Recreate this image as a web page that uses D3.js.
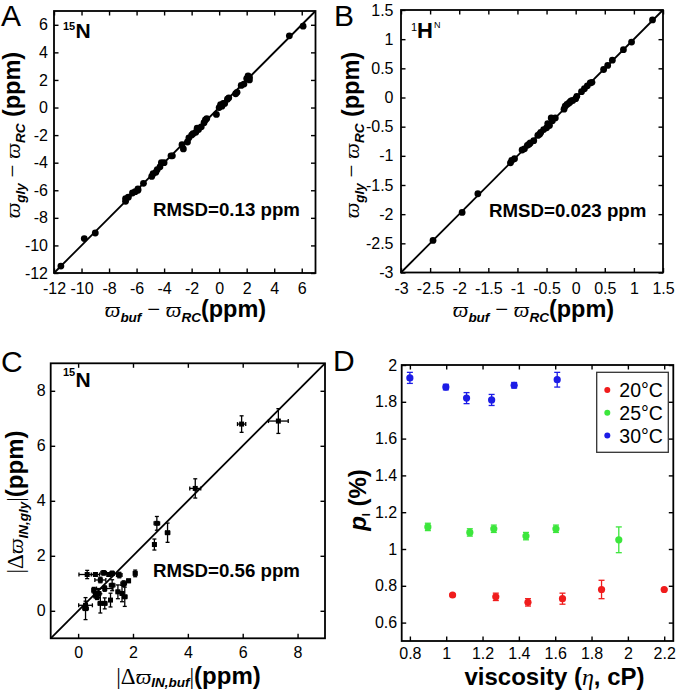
<!DOCTYPE html>
<html>
<head>
<meta charset="utf-8">
<script src="https://cdn.jsdelivr.net/npm/d3@7"></script>
<style>
  body { margin: 0; background: #fff; }
  svg { display: block; }
  text { font-family: "Liberation Sans", Arial, sans-serif; }
</style>
</head>
<body>
<div id="graf"></div>
<script>
// datos panel A (15N)
const aBuf = [-11.5, -9.8, -9.0, -6.8, -6.8, -6.6, -6.3, -6.1, -5.9, -5.9, -5.5, -4.9, -4.8, -4.6, -4.5, -4.3, -4.2, -4.0, -3.5, -3.4, -2.7, -2.6, -2.3, -2.2, -2.0, -1.9, -1.7, -1.6, -1.5, -1.3, -1.1, -1.0, -0.9, -0.2, 0.0, 0.1, 0.2, 0.3, 0.4, 0.6, 0.7, 1.2, 1.3, 1.6, 1.8, 2.0, 2.2, 2.2, 2.1, 5.1, 6.1]
const aGly = [-11.5, -9.5, -9.1, -6.8, -6.6, -6.5, -6.2, -6.1, -6.0, -5.9, -5.5, -5.0, -4.8, -4.7, -4.5, -4.3, -4.0, -4.0, -3.5, -3.5, -2.7, -3.0, -2.5, -2.2, -2.0, -1.9, -1.8, -1.5, -1.6, -1.4, -1.1, -0.9, -0.8, -0.5, 0.0, 0.2, 0.1, 0.3, 0.3, 0.6, 0.7, 1.0, 1.1, 1.6, 1.7, 2.1, 2.2, 2.0, 2.3, 5.2, 5.9]
const aTicks = [-12, -10, -8, -6, -4, -2, 0, 2, 4, 6]

// datos panel B (1HN)
const bBuf = [-2.45, -1.95, -1.68, -1.12, -1.1, -1.05, -0.92, -0.88, -0.83, -0.8, -0.78, -0.72, -0.65, -0.62, -0.6, -0.55, -0.5, -0.48, -0.45, -0.42, -0.4, -0.35, -0.2, -0.18, -0.15, -0.12, -0.1, -0.08, -0.05, 0.0, 0.02, 0.1, 0.15, 0.2, 0.25, 0.28, 0.48, 0.55, 0.63, 0.82, 0.96, 1.32]
const bGly = [-2.45, -1.97, -1.65, -1.12, -1.08, -1.05, -0.9, -0.88, -0.82, -0.8, -0.78, -0.74, -0.65, -0.63, -0.6, -0.55, -0.52, -0.45, -0.48, -0.35, -0.4, -0.35, -0.2, -0.15, -0.12, -0.1, -0.08, -0.06, -0.05, -0.02, 0.02, 0.1, 0.15, 0.2, 0.25, 0.26, 0.48, 0.55, 0.64, 0.82, 0.95, 1.33]
const bTicks = [-3, -2.5, -2, -1.5, -1, -0.5, 0, 0.5, 1, 1.5]

// datos panel C (|Δϖ|)
const cBuf = [7.3, 5.96, 4.27, 2.87, 2.78, 3.26, 2.08, 1.84, 1.66, 1.5, 1.45, 1.6, 1.7, 1.24, 1.12, 0.93, 1.24, 1.18, 0.97, 0.81, 0.63, 0.33, 0.75, 0.69, 0.81, 0.97, 0.63, 0.27, 0.27, 0.57]
const cGly = [6.9, 6.79, 4.45, 3.18, 2.41, 2.84, 1.36, 1.09, 0.99, 1.3, 0.69, 0.63, 0.51, 1.36, 1.32, 1.38, 0.93, 0.39, 0.81, 1.12, 1.32, 1.32, 0.63, 0.51, 0.27, 0.27, 0.57, 0.2, 0.08, 0.75]
const cBufErr = [0.36, 0.15, 0.2, 0.1, 0.06, 0.08, 0.06, 0.06, 0.1, 0.1, 0.06, 0.06, 0.08, 0.08, 0.06, 0.1, 0.1, 0.06, 0.3, 0.2, 0.15, 0.3, 0.08, 0.06, 0.08, 0.08, 0.06, 0.25, 0.1, 0.06]
const cGlyErr = [0.45, 0.3, 0.35, 0.25, 0.2, 0.35, 0.12, 0.06, 0.1, 0.1, 0.25, 0.3, 0.35, 0.08, 0.06, 0.08, 0.2, 0.25, 0.1, 0.1, 0.06, 0.15, 0.15, 0.1, 0.35, 0.2, 0.1, 0.15, 0.4, 0.1]
const cTicks = [0, 2, 4, 6, 8]

// datos panel D (p_I vs viscosidad)
const temps = ['20°C', '25°C', '30°C']
const colores = ['#f01c1c', '#3ce63c', '#1c1ce6']
const visc20 = [1.035, 1.273, 1.45, 1.64, 1.855, 2.2]
const pI20 = [0.75, 0.74, 0.71, 0.73, 0.78, 0.78]
const err20 = [0.005, 0.02, 0.02, 0.03, 0.05, 0.005]
const visc25 = [0.899, 1.13, 1.262, 1.439, 1.604, 1.95]
const pI25 = [1.12, 1.09, 1.11, 1.07, 1.11, 1.05]
const err25 = [0.02, 0.02, 0.02, 0.02, 0.02, 0.07]
const visc30 = [0.8, 0.998, 1.112, 1.25, 1.374, 1.611]
const pI30 = [1.93, 1.88, 1.82, 1.81, 1.89, 1.92]
const err30 = [0.03, 0.015, 0.03, 0.03, 0.015, 0.04]
const dxTicks = [0.8, 1, 1.2, 1.4, 1.6, 1.8, 2, 2.2]
const dyTicks = [0.6, 0.8, 1, 1.2, 1.4, 1.6, 1.8, 2]

// I. Configuración
const svg = d3.select('#graf').append('svg')
  .attr('width', 680)
  .attr('height', 690)

const fmt = d => String(Math.round(d * 10) / 10)
const SERIF = '"Liberation Serif", "DejaVu Serif", serif'

function panel(x, y, xt, yt, padX, padY) {
  const g = svg.append('g')
  const [x0, x1] = x.range()
  const [y0, y1] = y.range()

  const ejes = [
    [d3.axisBottom(x).tickValues(xt).tickPadding(padX).tickFormat(fmt), `translate(0,${y0})`],
    [d3.axisTop(x).tickValues(xt).tickFormat(''), `translate(0,${y1})`],
    [d3.axisLeft(y).tickValues(yt).tickPadding(padY).tickFormat(fmt), `translate(${x0},0)`],
    [d3.axisRight(y).tickValues(yt).tickFormat(''), `translate(${x1},0)`]
  ]
  ejes.forEach(([ax, tr]) => {
    const a = g.append('g')
      .attr('transform', tr)
      .call(ax.tickSizeInner(-4.5).tickSizeOuter(0))
      .attr('font-family', null)
      .attr('font-size', 16)
    a.select('.domain').remove()
    a.selectAll('line').attr('stroke-width', 1.4)
  })

  g.append('rect')
    .attr('x', x0).attr('y', y1)
    .attr('width', x1 - x0).attr('height', y0 - y1)
    .attr('fill', 'none')
    .attr('stroke', '#000')
    .attr('stroke-width', 1.8)
  return g
}

// título con piezas: [texto, tipo]
function titulo(px, py, rot, piezas, bajo = 5) {
  const t = svg.append('text')
    .attr('transform', `translate(${px},${py}) rotate(${rot})`)
    .attr('text-anchor', 'middle')
  let off = 0
  piezas.forEach(([txt, tipo]) => {
    const s = t.append('tspan').text(txt)
    let nuevo = 0
    if (tipo == 'g') {
      s.attr('font-family', SERIF).attr('font-style', 'italic').attr('font-size', 22)
    } else if (tipo == 'r') {
      s.attr('font-family', SERIF).attr('font-size', 23)
    } else if (tipo == 'sub') {
      s.attr('font-weight', 'bold').attr('font-style', 'italic').attr('font-size', 13.5)
      nuevo = bajo
    } else {
      s.attr('font-weight', 'bold').attr('font-size', tipo == 'big' ? 24 : 23.5)
    }
    if (nuevo != off) s.attr('dy', nuevo - off)
    off = nuevo
  })
}

function etiqueta(txt, px, py) {
  svg.append('text')
    .attr('x', px).attr('y', py)
    .attr('font-size', 30)
    .text(txt)
}

function rmsd(txt, px, py) {
  svg.append('text')
    .attr('x', px).attr('y', py)
    .attr('font-size', 18.7)
    .attr('font-weight', 'bold')
    .text(txt)
}

function diagonal(g, x, y, lo, hi) {
  g.append('line')
    .attr('x1', x(lo)).attr('y1', y(lo))
    .attr('x2', x(hi)).attr('y2', y(hi))
    .attr('stroke', '#000')
    .attr('stroke-width', 1.8)
}

// II. Panel A
const xA = d3.scaleLinear().domain([-12, 7]).range([54, 315.5])
const yA = d3.scaleLinear().domain([-12, 7]).range([273, 11])
const gA = panel(xA, yA, aTicks, aTicks, 10, 6)
diagonal(gA, xA, yA, -12, 7)
gA.selectAll('circle.pt')
  .data(aBuf)
  .enter()
  .append('circle')
    .attr('cx', d => xA(d))
    .attr('cy', (d, i) => yA(aGly[i]))
    .attr('r', 3.4)
    .attr('fill', '#000')
etiqueta('A', 1, 26)
svg.append('text').attr('x', 63).attr('y', 30).attr('font-size', 11).attr('font-weight', 'bold').text('15')
svg.append('text').attr('x', 75.5).attr('y', 38).attr('font-size', 21).attr('font-weight', 'bold').text('N')
rmsd('RMSD=0.13 ppm', 153, 216)
titulo(185.5, 317, 0, [['ϖ', 'g'], ['buf', 'sub'], [' − ', 'r'], ['ϖ', 'g'], ['RC', 'sub'], ['(ppm)', 'b']])
titulo(20, 135, -90, [['ϖ', 'g'], ['gly', 'sub'], [' − ', 'r'], ['ϖ', 'g'], ['RC', 'sub'], [' (ppm)', 'b']])

// III. Panel B
const xB = d3.scaleLinear().domain([-3, 1.5]).range([401, 663])
const yB = d3.scaleLinear().domain([-3, 1.5]).range([272.5, 10])
const gB = panel(xB, yB, bTicks, bTicks, 10, 7.5)
diagonal(gB, xB, yB, -3, 1.5)
gB.selectAll('circle.pt')
  .data(bBuf)
  .enter()
  .append('circle')
    .attr('cx', d => xB(d))
    .attr('cy', (d, i) => yB(bGly[i]))
    .attr('r', 3.4)
    .attr('fill', '#000')
etiqueta('B', 334, 26)
svg.append('text').attr('x', 411).attr('y', 31).attr('font-size', 11).text('1')
svg.append('text').attr('x', 417).attr('y', 38).attr('font-size', 22).attr('font-weight', 'bold').text('H')
svg.append('text').attr('x', 434).attr('y', 28).attr('font-size', 9).text('N')
rmsd('RMSD=0.023 ppm', 489, 216.5)
titulo(533.5, 317, 0, [['ϖ', 'g'], ['buf', 'sub'], [' − ', 'r'], ['ϖ', 'g'], ['RC', 'sub'], ['(ppm)', 'b']])
titulo(359, 135, -90, [['ϖ', 'g'], ['gly', 'sub'], [' − ', 'r'], ['ϖ', 'g'], ['RC', 'sub'], [' (ppm)', 'b']])

// IV. Panel C
const xC = d3.scaleLinear().domain([-1, 9]).range([50.7, 325])
const yC = d3.scaleLinear().domain([-1, 9]).range([638.3, 363.3])
const gC = panel(xC, yC, cTicks, cTicks, 8.5, 5)
diagonal(gC, xC, yC, -1, 9)
const cap = 2
cBuf.forEach((bx, i) => {
  const cx = xC(bx), cy = yC(cGly[i])
  const ex = xC(bx + cBufErr[i]) - cx
  const ey = cy - yC(cGly[i] + cGlyErr[i])
  const e = gC.append('g').attr('stroke', '#000').attr('stroke-width', 1.3)
  e.append('line').attr('x1', cx - ex).attr('x2', cx + ex).attr('y1', cy).attr('y2', cy)
  e.append('line').attr('x1', cx).attr('x2', cx).attr('y1', cy - ey).attr('y2', cy + ey)
  e.append('line').attr('x1', cx - ex).attr('x2', cx - ex).attr('y1', cy - cap).attr('y2', cy + cap)
  e.append('line').attr('x1', cx + ex).attr('x2', cx + ex).attr('y1', cy - cap).attr('y2', cy + cap)
  e.append('line').attr('x1', cx - cap).attr('x2', cx + cap).attr('y1', cy - ey).attr('y2', cy - ey)
  e.append('line').attr('x1', cx - cap).attr('x2', cx + cap).attr('y1', cy + ey).attr('y2', cy + ey)
  gC.append('rect')
    .attr('x', cx - 2.5).attr('y', cy - 2.5)
    .attr('width', 5).attr('height', 5)
    .attr('fill', '#000')
})
etiqueta('C', 1, 372)
svg.append('text').attr('x', 63).attr('y', 376).attr('font-size', 11).attr('font-weight', 'bold').text('15')
svg.append('text').attr('x', 75.5).attr('y', 387).attr('font-size', 21).attr('font-weight', 'bold').text('N')
rmsd('RMSD=0.56 ppm', 153, 577)
titulo(188.5, 683.5, 0, [['|Δ', 'r'], ['ϖ', 'g'], ['IN,buf', 'sub'], ['|', 'r'], ['(ppm)', 'big']], 3.5)
titulo(22.5, 502, -90, [['|Δ', 'r'], ['ϖ', 'g'], ['IN,gly', 'sub'], ['|', 'r'], ['(ppm)', 'big']])

// V. Panel D
const xD = d3.scaleLinear().domain([0.755, 2.25]).range([401.7, 673.3])
const yD = d3.scaleLinear().domain([0.5, 2]).range([641, 365])
const gD = panel(xD, yD, dxTicks, dyTicks, 6.5, 4.5)
const series = [[visc20, pI20, err20], [visc25, pI25, err25], [visc30, pI30, err30]]
series.forEach(([vx, vy, ve], k) => {
  vx.forEach((v, i) => {
    const cx = xD(v)
    const top = yD(vy[i] + ve[i]), bot = yD(vy[i] - ve[i])
    const e = gD.append('g').attr('stroke', colores[k]).attr('stroke-width', 1.3)
    e.append('line').attr('x1', cx).attr('x2', cx).attr('y1', top).attr('y2', bot)
    e.append('line').attr('x1', cx - 3).attr('x2', cx + 3).attr('y1', top).attr('y2', top)
    e.append('line').attr('x1', cx - 3).attr('x2', cx + 3).attr('y1', bot).attr('y2', bot)
    gD.append('circle')
      .attr('cx', cx)
      .attr('cy', yD(vy[i]))
      .attr('r', 3.6)
      .attr('fill', colores[k])
  })
})

// leyenda
const ley = svg.append('g').attr('transform', 'translate(596.7,372.3)')
ley.append('rect')
  .attr('width', 71.6).attr('height', 80)
  .attr('fill', '#fff')
  .attr('stroke', '#333')
  .attr('stroke-width', 1.3)
temps.forEach((t, i) => {
  ley.append('circle')
    .attr('cx', 10.6).attr('cy', 17.7 + i * 22.8)
    .attr('r', 3)
    .attr('fill', colores[i])
  ley.append('text')
    .attr('x', 22.6).attr('y', 17.7 + i * 22.8 + 7)
    .attr('font-size', 19.5)
    .text(t)
})

etiqueta('D', 333, 371)
svg.append('text')
  .attr('x', 554.5).attr('y', 684.5)
  .attr('text-anchor', 'middle')
  .attr('font-weight', 'bold')
  .attr('font-size', 24)
  .call(t => {
    t.append('tspan').text('viscosity (')
    t.append('tspan').attr('font-family', SERIF).attr('font-style', 'italic').attr('font-weight', 'normal').text('η')
    t.append('tspan').text(', cP)')
  })
svg.append('text')
  .attr('transform', 'translate(366,500) rotate(-90)')
  .attr('text-anchor', 'middle')
  .attr('font-weight', 'bold')
  .attr('font-size', 24)
  .call(t => {
    t.append('tspan').attr('font-style', 'italic').text('p')
    t.append('tspan').attr('font-size', 11).attr('dy', 4).text('I')
    t.append('tspan').attr('dy', -4).text(' (%)')
  })
</script>
</body>
</html>
